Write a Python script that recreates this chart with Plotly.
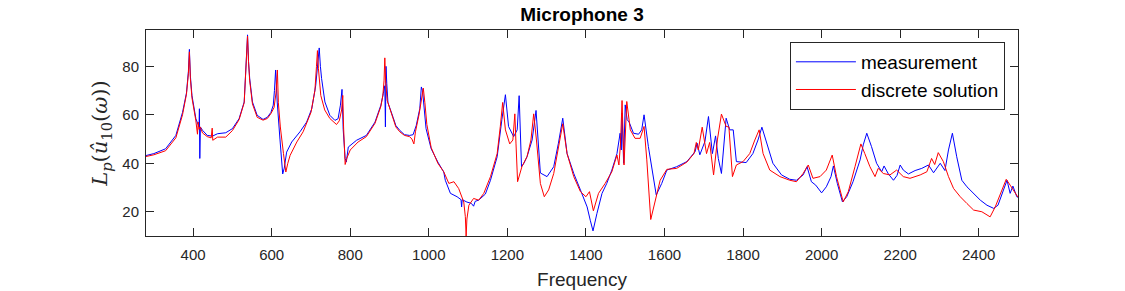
import plotly.graph_objects as go

freq_meas = [280, 300, 330, 356, 373, 383, 388, 390.5, 393, 397, 407, 413, 415, 416, 417, 418.5, 424, 436, 449,
             462, 483, 500, 517, 530, 535, 538.5, 541, 544, 551, 563, 578, 589, 598, 604, 607, 610, 612, 614,
             621, 628, 632, 638, 651, 672, 689, 702, 712, 717, 721, 724, 727, 735.5, 748, 761, 769, 775, 779,
             782, 787, 790, 795, 816, 841, 863, 878, 884, 888, 889.5, 891, 893, 896, 909, 916, 926, 938, 951,
             960, 968, 977, 981, 984, 993, 1006, 1023, 1038, 1042, 1055, 1072, 1082, 1083.5, 1085, 1097, 1108,
             1114, 1118, 1127, 1144, 1157, 1174, 1186, 1195, 1203, 1216, 1225, 1230, 1236, 1242, 1250, 1263,
             1273, 1280, 1284, 1301, 1318, 1330, 1341, 1352, 1369, 1386, 1403, 1411, 1418, 1428, 1441, 1453,
             1466, 1479, 1487, 1490, 1492, 1496, 1500, 1505, 1510, 1521, 1534, 1542, 1548, 1559, 1570, 1579,
             1593, 1606, 1631, 1657, 1678, 1683, 1690, 1698, 1703, 1712, 1722, 1730, 1737, 1745, 1757, 1766,
             1775, 1783, 1795, 1808, 1825, 1838, 1848, 1860, 1876, 1898, 1919, 1936, 1953, 1963, 1974, 1985,
             2000, 2012, 2024, 2030, 2040, 2053, 2064, 2080, 2098, 2106, 2115, 2127, 2140, 2153, 2159, 2170,
             2183, 2192, 2200, 2208, 2221, 2238, 2255, 2272, 2285, 2302, 2314, 2323, 2333, 2344, 2357, 2370,
             2387, 2404, 2421, 2438, 2449, 2459, 2472, 2480, 2487, 2497, 2500]
lp_meas = [43.2, 44, 46, 51.5, 61, 69, 78, 87, 76, 68, 58.4, 56, 55, 62.5, 42, 55, 53.6, 51.5, 51.2,
           52.2, 52.6, 54.3, 58.4, 65.3, 80, 93, 82, 75, 65.3, 59.8, 58.1, 59, 61, 64, 70, 78.5, 72, 65.3,
           50, 35.6, 38, 44.6, 48.8, 53, 57, 62.5, 72, 81, 87.6, 80, 75, 65.3, 59.8, 57.7, 58.4, 64, 70.5,
           54, 42, 40.5, 46.7, 49.5, 51.5, 57, 64, 68.7, 72, 55, 80, 73, 65, 59, 55.6, 53.6, 51.8, 51.5,
           51.8, 55.6, 62.5, 71.5, 70, 54.3, 46, 40.5, 36.4, 33, 27.6, 26.2, 25, 22, 25, 24, 23.5,
           22.3, 24.3, 24.8, 27.3, 33, 42.7, 58, 68.3, 55.2, 51, 53.8, 67.9, 38.6, 40, 42.7, 49.6,
           61.8, 44, 36, 34.5, 38.6, 48.3, 58.6, 44, 35.8, 29, 22, 16.5, 12.1, 19.3, 27.6, 31.7,
           37.2, 44, 52.4, 45.5, 60.7, 40, 64.1, 58, 57, 52.4, 52, 53.8, 60, 46.9, 35.8, 26.9,
           31.7, 37.2, 38.6, 40.7, 44.8, 48.3, 43.5, 46.9, 49, 59.3, 44, 51.3, 42, 35.8, 58.6, 53.8,
           53.8, 40.7, 40.5, 40.3, 44, 49.6, 54.9, 48.3, 40, 35.2, 33.4, 33, 35.2, 38.6, 32.4, 31,
           27.8, 30.3, 34.5, 38.9, 31.7, 24.1, 26.2, 32.4, 41.4, 47.6, 52.4, 46.9, 40, 36.5, 38.9, 35.6,
           33, 35, 39.3, 37.2, 35.6, 37, 37.9, 39.3, 36.1, 40, 37, 45.5, 52.4, 42.7, 33, 30.3,
           27.6, 24.8, 22.7, 21.4, 22.7, 27.6, 33, 27.6, 30.6, 26.2, 26]

freq_disc = [280, 300, 330, 356, 373, 383, 388, 390.5, 393, 397, 407, 411, 413, 415, 418, 424, 436, 446,
             448.5, 450, 462, 483, 500, 517, 530, 535, 538.5, 541, 544, 551, 563, 578, 589, 598, 606, 611,
             614.5, 617, 622, 630, 636, 641, 647, 664, 680, 700, 710, 714, 716.5, 719, 725, 735, 748, 765,
             772, 778, 781, 783, 787, 791, 800, 820, 841, 863, 878, 883, 886, 888, 890, 894, 909, 916, 926,
             938, 951, 957, 962, 966, 975, 983, 986, 990, 995, 1006, 1023, 1038, 1051, 1064, 1076, 1089,
             1093, 1095, 1097, 1102, 1114, 1127, 1140, 1157, 1174, 1182, 1188, 1195, 1206, 1214, 1219, 1222,
             1226, 1237, 1250, 1260, 1267, 1274, 1284, 1294, 1305, 1318, 1330, 1341, 1352, 1369, 1386, 1400,
             1409, 1419, 1432, 1449, 1466, 1479, 1484, 1488, 1492, 1497, 1504, 1513, 1525, 1538, 1548, 1555,
             1565, 1576, 1589, 1606, 1631, 1657, 1675, 1681, 1686, 1696, 1707, 1715, 1725, 1735, 1745, 1757,
             1764, 1773, 1783, 1800, 1817, 1830, 1841, 1851, 1868, 1894, 1919, 1936, 1953, 1966, 1978, 1996,
             2012, 2027, 2038, 2055, 2068, 2085, 2100, 2110, 2123, 2136, 2144, 2157, 2174, 2191, 2208, 2225,
             2251, 2268, 2280, 2288, 2297, 2310, 2323, 2336, 2353, 2370, 2387, 2408, 2421, 2429, 2442, 2455,
             2470, 2480, 2497, 2500]
lp_disc = [42.8, 43.5, 45.2, 50.5, 60, 68.5, 77, 86, 75, 67, 57.5, 52, 57, 54, 55, 52.5, 51, 50.5,
           54.5, 49.5, 50.8, 50.8, 53.5, 58, 65, 80, 92.5, 82, 74, 64.5, 59, 57.8, 58.5, 60.5, 63, 69,
           78.5, 65, 55, 44, 36.4, 40, 43.3, 48.8, 53, 61, 70, 80, 86.5, 79, 68, 62, 58.5, 56,
           57.5, 62, 68, 55, 39.5, 42, 45.5, 48.8, 51, 56.5, 63.5, 68, 74, 83.5, 74, 66, 58.5, 55, 53,
           51.5, 51, 50, 48, 53, 60, 68, 71, 65, 56, 46.5, 40, 36.5, 31.7, 32.4, 29.6, 24,
           18, 10, 17, 22.7, 25.5, 24.8, 27.6, 34.5, 44, 55.2, 65.1, 53.8, 48, 49.6, 60.4, 48,
           32.4, 38.6, 42.7, 49.6, 60.4, 49.6, 31.7, 26.2, 29, 35.8, 46.9, 56.3, 44, 34.5, 28.3, 26.2,
           28.3, 20.4, 27.6, 31.7, 36.5, 43.4, 39.3, 48, 65.9, 39.3, 65.5, 53.8, 50.3, 50.3, 55.2, 41.4,
           16.8, 24.8, 33, 37.5, 37.9, 40.5, 44, 48.6, 45.5, 54.9, 44, 48.6, 35.2, 50, 60.3, 55.2,
           55, 34.5, 39.3, 40.7, 44, 49.6, 53.8, 44, 37.2, 34.5, 33, 32.4, 35.8, 39.3, 33.8, 34.5,
           37.2, 43.4, 34.5, 24.1, 28.3, 38.6, 48, 44, 38.6, 34.5, 37.9, 35.8, 35.2, 37.2, 34.5, 33.8,
           35.2, 36.5, 42, 39.5, 44.4, 40.7, 34.5, 29.6, 26.2, 23.4, 20.7, 20, 18.6, 17.9, 22, 27.6,
           33.4, 31, 26.5, 26]

x_ticks = [400, 600, 800, 1000, 1200, 1400, 1600, 1800, 2000, 2200, 2400]
y_ticks = [20, 40, 60, 80]

fig = go.Figure()
fig.add_trace(go.Scatter(x=freq_meas, y=lp_meas, mode="lines", name="measurement",
                         line=dict(color="rgb(0,0,255)", width=1)))
fig.add_trace(go.Scatter(x=freq_disc, y=lp_disc, mode="lines", name="discrete solution",
                         line=dict(color="rgb(255,0,0)", width=1)))

axis_common = dict(showline=True, linecolor="#262626", linewidth=1, mirror="ticks",
                   ticks="inside", ticklen=8, tickcolor="#262626", showgrid=False, zeroline=False,
                   automargin=False,
                   tickfont=dict(family="Liberation Sans, Arial", size=15, color="#262626"))

fig.update_layout(
    width=1125, height=291,
    margin=dict(l=146, r=107, t=30, b=55),
    paper_bgcolor="white", plot_bgcolor="white",
    title=dict(text="<b>Microphone 3</b>", x=(146 + 1018) / 2 / 1125, xanchor="center",
               y=1 - 14 / 291, yanchor="middle",
               font=dict(family="Liberation Sans, Arial", size=19, color="black")),
    xaxis=dict(range=[280, 2500], tickvals=x_ticks, ticklabelstandoff=5, **axis_common,
               title=dict(text="Frequency", standoff=10,
                          font=dict(family="Liberation Sans, Arial", size=19, color="#262626"))),
    yaxis=dict(range=[10, 95], tickvals=y_ticks, ticklabelstandoff=3, **axis_common,
               title=dict(text="<i>L</i><sub><i>p</i></sub>(<i>û</i><sub>10</sub>(<i>ω</i>))", standoff=8,
                          font=dict(family="DejaVu Serif, Liberation Serif", size=21, color="#262626"))),
    legend=dict(x=0.985, y=0.942, xanchor="right", yanchor="top", bgcolor="white",
                bordercolor="#262626", borderwidth=1,
                font=dict(family="Liberation Sans, Arial", size=19, color="black"),
                tracegroupgap=0, itemwidth=60),
    showlegend=True,
)

fig.write_html("out.html")
